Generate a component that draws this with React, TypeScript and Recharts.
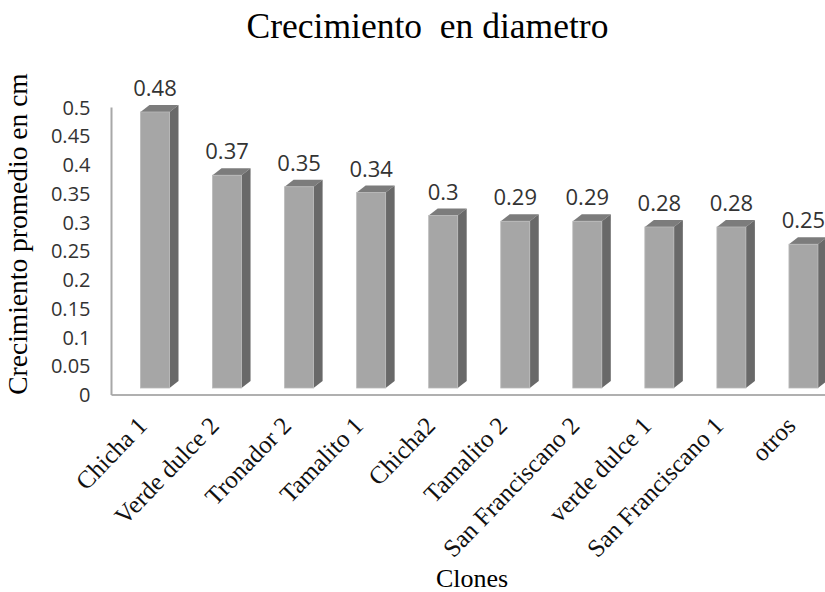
import React from 'react';
import { BarChart, Bar, XAxis, YAxis, LabelList } from 'recharts';

const categories = ['Chicha 1', 'Verde dulce 2', 'Tronador 2', 'Tamalito 1', 'Chicha2', 'Tamalito 2', 'San Franciscano 2', 'verde dulce 1', 'San Franciscano 1', 'otros'];
const values = [0.48, 0.37, 0.35, 0.34, 0.3, 0.29, 0.29, 0.28, 0.28, 0.25];
const yTicks = [0, 0.05, 0.1, 0.15, 0.2, 0.25, 0.3, 0.35, 0.4, 0.45, 0.5];

const data = categories.map((name, i) => ({ name, v: values[i] }));

const DX = 9;
const DY = 7;

const Bar3D = (props: any) => {
  const { x, y, width, height } = props;
  if (width == null || height == null) return null;
  const fy = y - DY;
  return (
    <g>
      <polygon
        points={`${x},${fy} ${x + DX},${fy - DY} ${x + width + DX},${fy - DY} ${x + width},${fy}`}
        fill="#7c7c7c"
      />
      <polygon
        points={`${x + width},${fy} ${x + width + DX},${fy - DY} ${x + width + DX},${fy + height - DY} ${x + width},${fy + height}`}
        fill="#696969"
      />
      <rect x={x} y={fy} width={width} height={height} fill="#a6a6a6" stroke="#b9b9b9" strokeWidth={0.8} />
    </g>
  );
};

const XTick = (props: any) => {
  const { x, y, payload } = props;
  const tx = x - 6;
  const ty = y + 32;
  return (
    <text
      x={tx}
      y={ty}
      transform={`rotate(-46, ${tx}, ${ty})`}
      textAnchor="end"
      fontFamily="'Liberation Serif', 'Times New Roman', serif"
      fontSize={25}
      fill="#111"
    >
      {payload.value}
    </text>
  );
};

const YTick = (props: any) => {
  const { x, y, payload } = props;
  return (
    <text x={x} y={y} dy="0.35em" textAnchor="end" fontFamily="'Open Sans', sans-serif" fontSize={20} fill="#333">
      {payload.value}
    </text>
  );
};

export default function App() {
  return (
    <div style={{ position: 'absolute', left: 0, top: 0, width: 825, height: 592, overflow: 'hidden', background: '#fff' }}>
      <BarChart width={839} height={592} data={data} margin={{ top: 107.5, right: 0, bottom: 0, left: 0 }}>
        <XAxis
          dataKey="name"
          height={197}
          padding={{ left: 7, right: 0 }}
          tickLine={false}
          tickSize={0}
          tickMargin={0}
          interval={0}
          axisLine={{ stroke: '#b0b0b0', strokeWidth: 2 }}
          tick={<XTick />}
        />
        <YAxis
          width={111.5}
          domain={[0, 0.5]}
          ticks={yTicks}
          tickLine={false}
          tickSize={0}
          tickMargin={21}
          axisLine={{ stroke: '#a8a8a8', strokeWidth: 2 }}
          tick={<YTick />}
        />
        <Bar dataKey="v" barSize={29} fill="#a6a6a6" shape={<Bar3D />} isAnimationActive={false}>
          <LabelList
            dataKey="v"
            position="top"
            offset={23}
            fontFamily="'Open Sans', sans-serif"
            fontSize={22}
            fill="#333"
          />
        </Bar>
      </BarChart>
      <svg width={825} height={592} style={{ position: 'absolute', left: 0, top: 0, pointerEvents: 'none' }}>
        <text x={427.5} y={38} textAnchor="middle" fontFamily="'Liberation Serif', 'Times New Roman', serif" fontSize={35.5} fill="#000" style={{ whiteSpace: 'pre' }}>
          {'Crecimiento  en diametro'}
        </text>
        <text
          x={27}
          y={234}
          transform="rotate(-90, 27, 234)"
          textAnchor="middle"
          fontFamily="'Liberation Serif', 'Times New Roman', serif"
          fontSize={27.5}
          fill="#000"
        >
          Crecimiento promedio en cm
        </text>
        <text x={472} y={587} textAnchor="middle" fontFamily="'Liberation Serif', 'Times New Roman', serif" fontSize={26} fill="#000">
          Clones
        </text>
      </svg>
    </div>
  );
}
